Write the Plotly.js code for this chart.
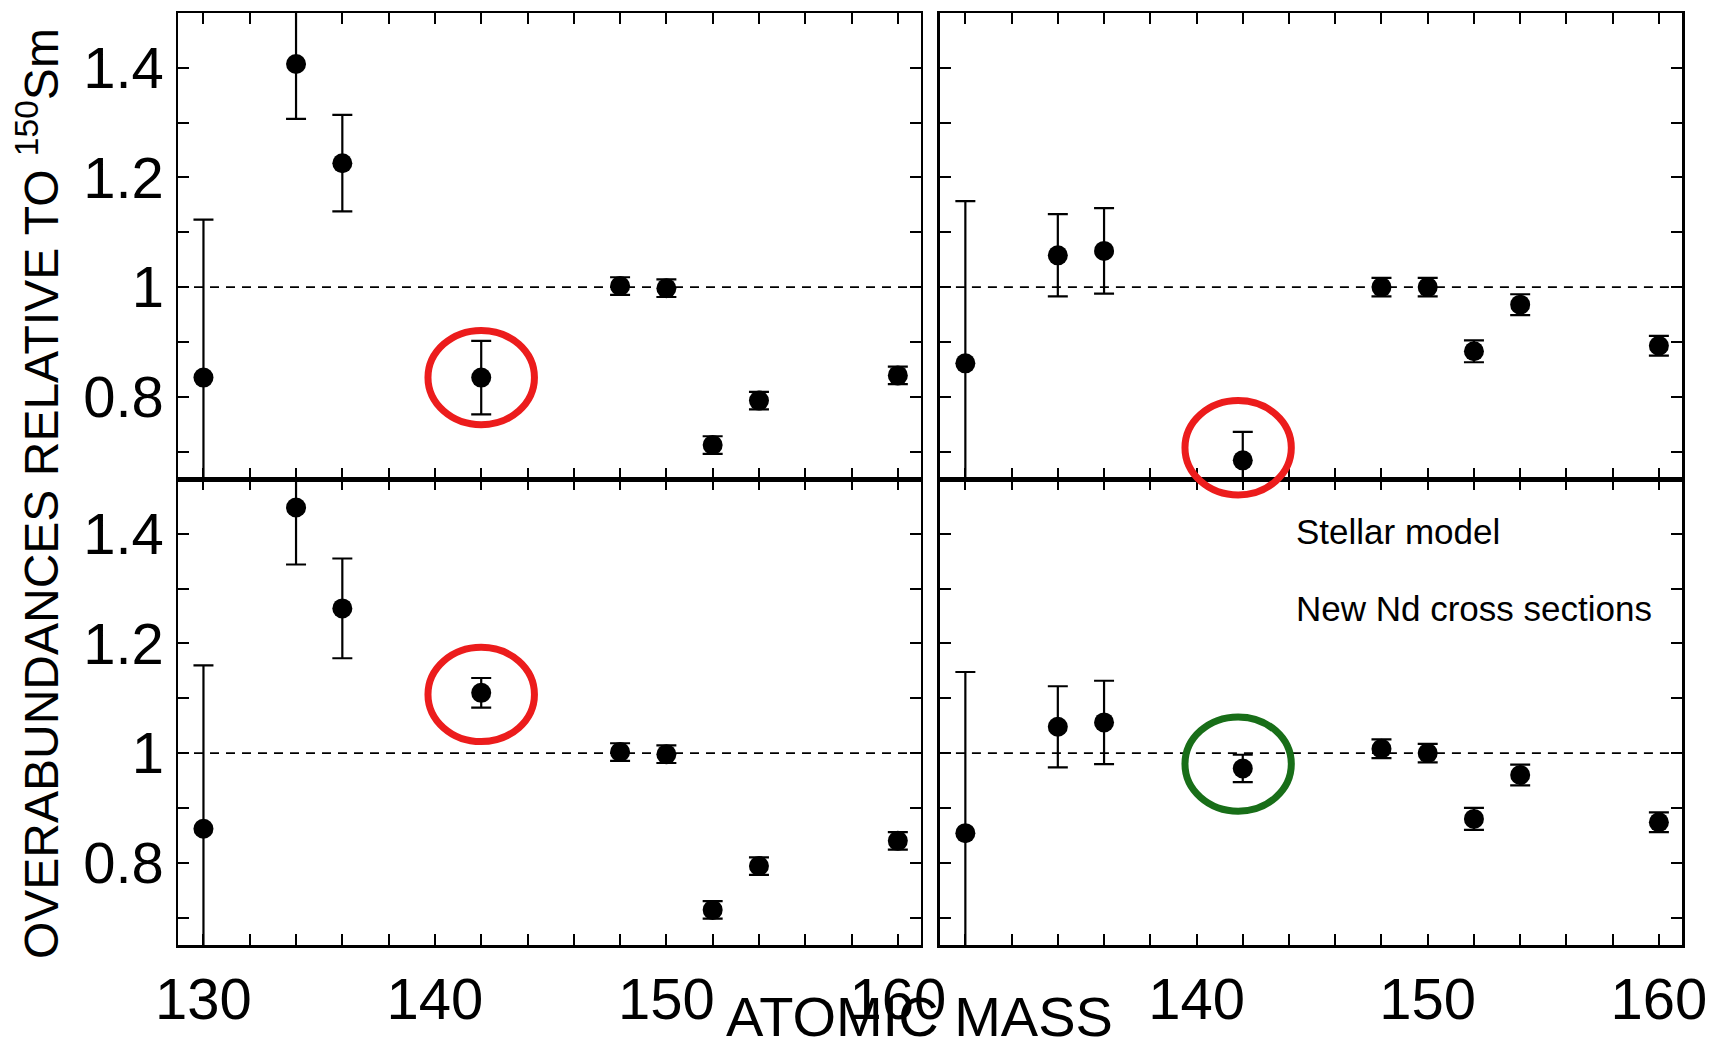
<!DOCTYPE html>
<html>
<head>
<meta charset="utf-8">
<script src="https://cdn.plot.ly/plotly-3.0.1.min.js"></script>
<style>html,body{margin:0;padding:0;background:#fff;}#chart{width:1713px;height:1049px;}</style>
</head>
<body>
<div id="chart"></div>
<script>
// ---- data ----
const mass = [130, 134, 136, 142, 148, 150, 152, 154, 160];

const valTL = [0.835, 1.407, 1.226, 0.835, 1.002, 0.998, 0.712, 0.793, 0.839];
const errTL = [0.288, 0.100, 0.088, 0.067, 0.016, 0.016, 0.016, 0.016, 0.016];

const valTR = [0.861, 1.058, 1.066, 0.684, 1.000, 1.000, 0.883, 0.968, 0.893];
const errTR = [0.296, 0.075, 0.078, 0.052, 0.017, 0.017, 0.020, 0.019, 0.018];

const valBL = [0.862, 1.448, 1.264, 1.110, 1.002, 0.998, 0.714, 0.794, 0.840];
const errBL = [0.298, 0.104, 0.091, 0.027, 0.016, 0.016, 0.016, 0.016, 0.016];

const valBR = [0.854, 1.048, 1.056, 0.972, 1.008, 1.000, 0.880, 0.960, 0.874];
const errBR = [0.294, 0.074, 0.076, 0.025, 0.017, 0.017, 0.020, 0.019, 0.018];

const refLevel = 1;
const yTickVals = [0.8, 1, 1.2, 1.4];
const yTickText = ['0.8', '1', '1.2', '1.4'];
const xTickValsLeft = [130, 140, 150, 160];
const xTickTextLeft = ['130', '140', '150', '160'];
const xTickValsRight = [140, 150, 160];
const xTickTextRight = ['140', '150', '160'];

// highlighted (circled) point per panel: ellipse centre
const circleX = {tl: 142.0, tr: 141.8, bl: 142.0, br: 141.8};
const circleY = {tl: 0.835, tr: 0.707, bl: 1.107, br: 0.980};
const circleColor = {tl: 'rgb(236,28,28)', tr: 'rgb(236,28,28)', bl: 'rgb(236,28,28)', br: 'rgb(24,110,24)'};

const yTitle = 'OVERABUNDANCES RELATIVE TO <sup>150</sup>Sm';
const xTitle = 'ATOMIC MASS';
const noteLines = ['Stellar model', 'New Nd cross sections'];
const noteY = [1.404, 1.264];
const noteX = 144.2;

// ---- layout geometry ----
const xRange = [128.9, 161.0];
const yRange = [0.65, 1.5];
const domL = [0, 0.494], domR = [0.5066, 1];
const domT = [0.5, 1], domB = [0, 0.5];

const FONT = '"Liberation Sans", Arial, Helvetica, sans-serif';

function trace(vals, errs, xa, ya) {
  return {
    type: 'scatter', mode: 'markers', x: mass, y: vals, xaxis: xa, yaxis: ya,
    marker: {color: 'black', size: 20},
    error_y: {type: 'data', array: errs, visible: true, color: 'black', thickness: 2.2, width: 10},
    showlegend: false, hoverinfo: 'x+y', cliponaxis: true
  };
}

const data = [
  trace(valTL, errTL, 'x', 'y'),
  trace(valTR, errTR, 'x2', 'y2'),
  trace(valBL, errBL, 'x3', 'y3'),
  trace(valBR, errBR, 'x4', 'y4')
];

function xAxis(domain, anchor, labels, vals, text) {
  return {
    domain: domain, anchor: anchor, range: xRange, showgrid: false, zeroline: false,
    showline: true, linecolor: 'black', linewidth: 2.5, mirror: 'ticks',
    ticks: 'inside', ticklen: 11, tickwidth: 2, tickcolor: 'black',
    tickmode: 'array', tickvals: vals, ticktext: text,
    showticklabels: labels, ticklabelstandoff: 2,
    tickfont: {family: FONT, size: 58, color: 'black'},
    minor: {tickmode: 'linear', tick0: 130, dtick: 2, ticks: 'inside', ticklen: 11, tickwidth: 2, tickcolor: 'black', showgrid: false}
  };
}
function yAxis(domain, anchor, labels) {
  return {
    domain: domain, anchor: anchor, range: yRange, showgrid: false, zeroline: false,
    showline: true, linecolor: 'black', linewidth: 2.5, mirror: 'ticks',
    ticks: 'inside', ticklen: 11, tickwidth: 2, tickcolor: 'black',
    tickmode: 'array', tickvals: yTickVals, ticktext: yTickText,
    showticklabels: labels, ticklabelstandoff: 0,
    tickfont: {family: FONT, size: 58, color: 'black'},
    minor: {tickmode: 'linear', tick0: 0.6, dtick: 0.1, ticks: 'inside', ticklen: 11, tickwidth: 2, tickcolor: 'black', showgrid: false}
  };
}

// convert a data value to paper coordinates via axis range & domain
function toPaper(v, range, domain) {
  return domain[0] + (v - range[0]) / (range[1] - range[0]) * (domain[1] - domain[0]);
}
const ellRx = 2.3, ellRy = 0.086;
function ellipse(key, dx, dy) {
  return {
    type: 'circle', xref: 'paper', yref: 'paper', layer: 'above',
    x0: toPaper(circleX[key] - ellRx, xRange, dx), x1: toPaper(circleX[key] + ellRx, xRange, dx),
    y0: toPaper(circleY[key] - ellRy, yRange, dy), y1: toPaper(circleY[key] + ellRy, yRange, dy),
    line: {color: circleColor[key], width: 7}
  };
}
function refLine(xa, ya) {
  return {type: 'line', xref: xa + ' domain', yref: ya, x0: 0, x1: 1, y0: refLevel, y1: refLevel,
    line: {color: 'black', width: 1.6, dash: '9px,7px'}, layer: 'below'};
}

const layout = {
  width: 1713, height: 1049,
  margin: {l: 178, r: 31, t: 13, b: 104},
  paper_bgcolor: 'white', plot_bgcolor: 'white',
  font: {family: FONT, color: 'black'},
  showlegend: false,
  xaxis: xAxis(domL, 'y', false, xTickValsLeft, xTickTextLeft),
  yaxis: yAxis(domT, 'x', true),
  xaxis2: xAxis(domR, 'y2', false, xTickValsRight, xTickTextRight),
  yaxis2: yAxis(domT, 'x2', false),
  xaxis3: xAxis(domL, 'y3', true, xTickValsLeft, xTickTextLeft),
  yaxis3: yAxis(domB, 'x3', true),
  xaxis4: xAxis(domR, 'y4', true, xTickValsRight, xTickTextRight),
  yaxis4: yAxis(domB, 'x4', false),
  shapes: [
    refLine('x', 'y'), refLine('x2', 'y2'), refLine('x3', 'y3'), refLine('x4', 'y4'),
    ellipse('tl', domL, domT), ellipse('tr', domR, domT),
    ellipse('bl', domL, domB), ellipse('br', domR, domB)
  ],
  annotations: [
    {text: xTitle, xref: 'paper', yref: 'paper', x: 0.493, y: -0.1116, xanchor: 'center', yanchor: 'bottom',
     showarrow: false, borderpad: 0, font: {family: FONT, size: 56, color: 'black'}},
    {text: yTitle, xref: 'paper', yref: 'paper', x: -0.093, y: 0.484, xanchor: 'center', yanchor: 'middle',
     textangle: -90, showarrow: false, font: {family: FONT, size: 48, color: 'black'}},
    {text: noteLines[0], xref: 'x4', yref: 'y4', x: noteX, y: noteY[0], xanchor: 'left', yanchor: 'middle',
     showarrow: false, font: {family: FONT, size: 35, color: 'black'}},
    {text: noteLines[1], xref: 'x4', yref: 'y4', x: noteX, y: noteY[1], xanchor: 'left', yanchor: 'middle',
     showarrow: false, font: {family: FONT, size: 35, color: 'black'}}
  ]
};

Plotly.newPlot('chart', data, layout, {displayModeBar: false, staticPlot: true});
</script>
</body>
</html>
